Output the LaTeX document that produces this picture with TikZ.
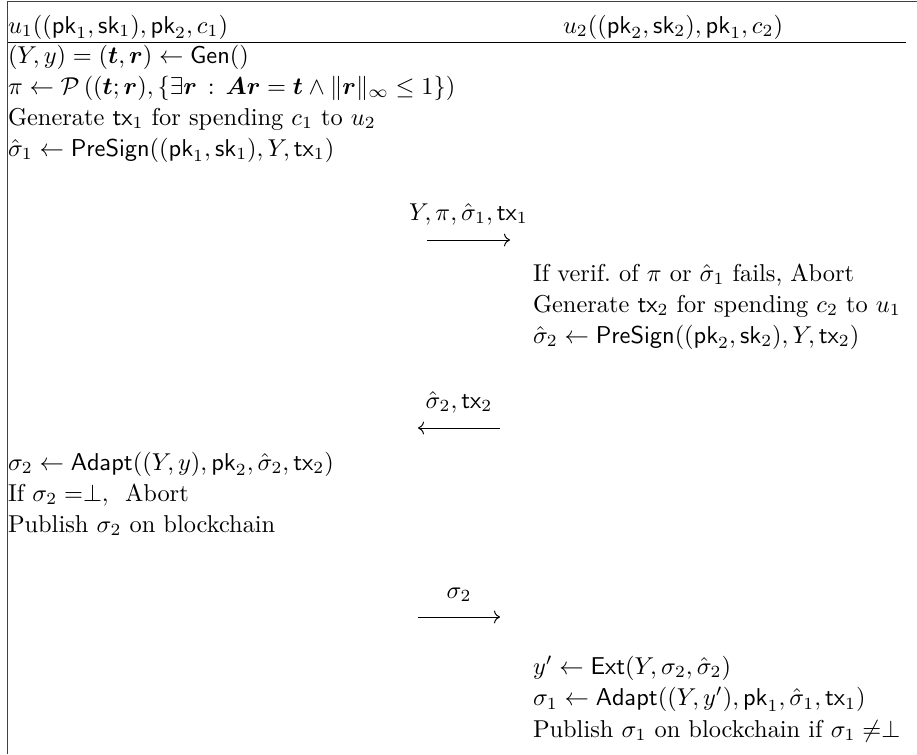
\documentclass[tikz,border=0pt]{standalone}
\usepackage{amsmath}
\usepackage{amssymb}
\usepackage{bm}
\usepackage{tikz}
\usetikzlibrary{arrows.meta,positioning}
\newcommand{\algname}[1]{\mathsf{#1}}
\newcommand{\pkey}{\mathsf{pk}}
\newcommand{\skey}{\mathsf{sk}}
\newcommand{\txn}{\mathsf{tx}}
\tikzset{
  protorow/.style={
    anchor=base west,
    inner sep=0pt,
    outer sep=0pt
  },
  msglabel/.style={above=6pt, inner sep=0pt},
  msgarrow/.style={->, line width=0.4pt, draw=black},
  framerule/.style={line width=0.45pt, draw=black!75},
  headrule/.style={line width=0.6pt, draw=black}
}

\begin{document}
\begin{tikzpicture}[x=0.41pt, y=-0.41pt]
\useasboundingbox (0,0) rectangle (917,754);
\draw[framerule] (7.5,754) -- (7.5,1.5) -- (917,1.5);
\node[protorow] (hda) at (8,33) {$u_1((\pkey_1,\skey_1),\pkey_2,c_1)$};
\node[protorow] (hdb) at (563,33) {$u_2((\pkey_2,\skey_2),\pkey_1,c_2)$};
\coordinate (rulea) at (8,42.5);
\coordinate (ruleb) at (906,42.5);
\draw[headrule] (rulea) -- (ruleb);
\node[protorow] (a1) at (8,63) {$(Y,y)=(\bm{t},\bm{r})\leftarrow\algname{Gen}()$};
\node[protorow] (a2) at (8,94) {$\pi\leftarrow\mathcal{P}\left((\bm{t};\bm{r}),\{\exists\bm{r}\,:\,\bm{A}\bm{r}=\bm{t}\wedge\|\bm{r}\|_\infty\le 1\}\right)$};
\node[protorow] (a3) at (8,125) {Generate $\txn_1$ for spending $c_1$ to $u_2$};
\node[protorow] (a4) at (8,156) {$\hat\sigma_1\leftarrow\algname{PreSign}((\pkey_1,\skey_1),Y,\txn_1)$};
\coordinate (p1) at (427,240);
\coordinate (q1) at (510,240);
\draw[msgarrow] (p1) -- node[msglabel] (m1) {$Y,\pi,\hat\sigma_1,\txn_1$} (q1);
\node[protorow] (b1) at (533,281) {If verif.\ of $\pi$ or $\hat\sigma_1$ fails, Abort};
\node[protorow] (b2) at (533,312) {Generate $\txn_2$ for spending $c_2$ to $u_1$};
\node[protorow] (b3) at (533,343) {$\hat\sigma_2\leftarrow\algname{PreSign}((\pkey_2,\skey_2),Y,\txn_2)$};
\coordinate (p2) at (500,428);
\coordinate (q2) at (418,428);
\draw[msgarrow] (p2) -- node[msglabel] (m2) {$\hat\sigma_2,\txn_2$} (q2);
\node[protorow] (a5) at (8,470) {$\sigma_2\leftarrow\algname{Adapt}((Y,y),\pkey_2,\hat\sigma_2,\txn_2)$};
\node[protorow] (a6) at (8,501) {If $\sigma_2 =\perp,\ $ Abort};
\node[protorow] (a7) at (8,532) {Publish $\sigma_2$ on blockchain};
\coordinate (p3) at (418,617);
\coordinate (q3) at (500,617);
\draw[msgarrow] (p3) -- node[msglabel] (m3) {$\sigma_2$} (q3);
\node[protorow] (b4) at (533,674) {$y'\leftarrow\algname{Ext}(Y,\sigma_2,\hat\sigma_2)$};
\node[protorow] (b5) at (533,705.5) {$\sigma_1\leftarrow\algname{Adapt}((Y,y'),\pkey_1,\hat\sigma_1,\txn_1)$};
\node[protorow] (b6) at (533,737) {Publish $\sigma_1$ on blockchain if $\sigma_1\neq\perp$};
\end{tikzpicture}
\end{document}
